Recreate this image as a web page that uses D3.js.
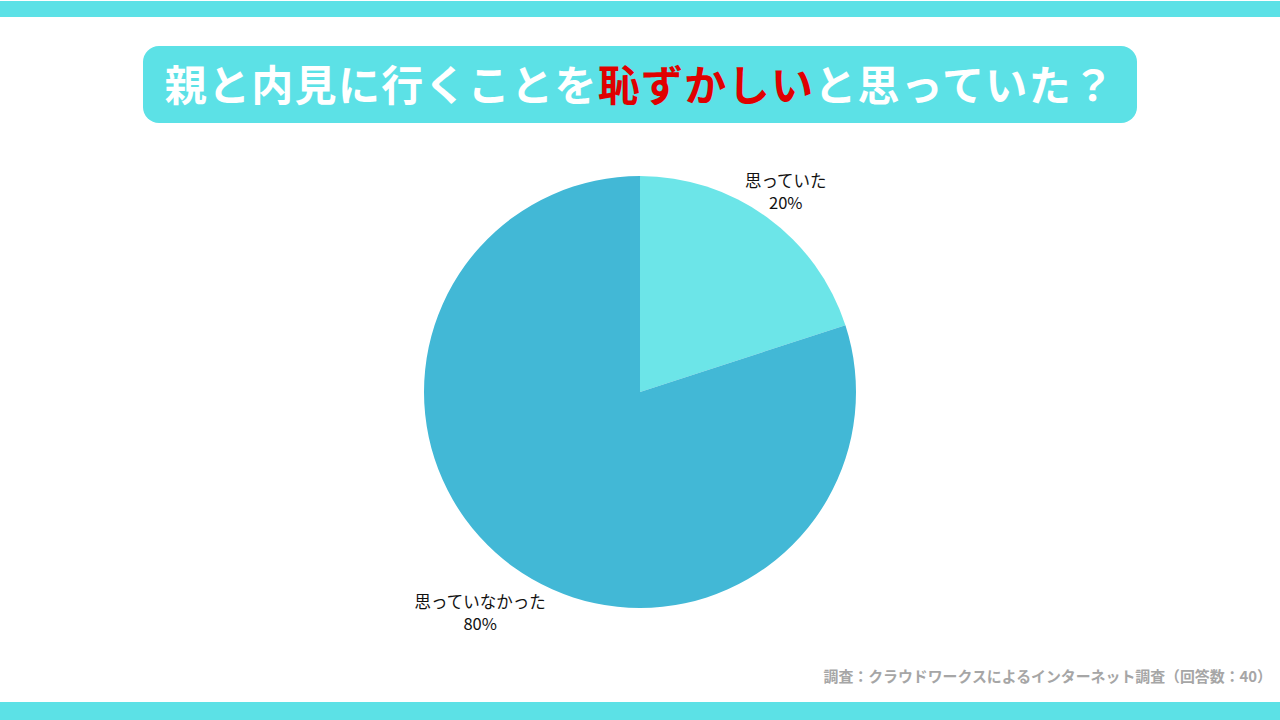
<!DOCTYPE html>
<html><head><meta charset="utf-8">
<script src="https://cdn.jsdelivr.net/npm/d3@7"></script>
<style>body{margin:0;background:#fff}svg{display:block}</style>
</head><body>
<svg id="c" width="1280" height="720"></svg>
<script>
const categories = ["思っていた", "思っていなかった"];
const values = [20, 80];
const percentLabels = ["20%", "80%"];
const colors = ["#6ce5e8", "#42b8d6"];
const titleParts = [["親と内見に行くことを", "#ffffff"], ["恥ずかしい", "#e00000"], ["と思っていた？", "#ffffff"]];
const footnote = "調査：クラウドワークスによるインターネット調査（回答数：40）";

const svg = d3.select("#c");
const font = "'Noto Sans CJK JP','Noto Sans',sans-serif";
svg.append("rect").attr("x",0).attr("y",1).attr("width",1280).attr("height",16).attr("fill","#5ce1e6");
svg.append("rect").attr("x",0).attr("y",702).attr("width",1280).attr("height",18).attr("fill","#5ce1e6");
svg.append("rect").attr("x",143).attr("y",46).attr("width",994).attr("height",77).attr("rx",16).attr("fill","#5ce1e6");
const t = svg.append("text").attr("x",640).attr("y",101).attr("text-anchor","middle")
  .attr("font-family",font).attr("font-weight",700).attr("font-size",42).attr("letter-spacing",1.3);
titleParts.forEach(p => t.append("tspan").attr("fill",p[1]).text(p[0]));

const cx = 640, cy = 392, R = 216;
const pie = d3.pie().sort(null)(values);
const arc = d3.arc().innerRadius(0).outerRadius(R);
const g = svg.append("g").attr("transform",`translate(${cx},${cy})`);
g.selectAll("path").data(pie).join("path").attr("d",arc).attr("fill",(d,i)=>colors[i]);

const labelR = [248, 272];
pie.forEach((d,i) => {
  const a = (d.startAngle + d.endAngle)/2;
  const x = Math.sin(a)*labelR[i], y = -Math.cos(a)*labelR[i];
  const lt = g.append("text").attr("text-anchor","middle").attr("font-family",font)
    .attr("font-size",16.5).attr("fill","#111");
  lt.append("tspan").attr("x",x).attr("y",y-4).text(categories[i]);
  lt.append("tspan").attr("x",x).attr("y",y+18).text(percentLabels[i]);
});

svg.append("text").attr("x",1272).attr("y",682).attr("text-anchor","end")
  .attr("font-family",font).attr("font-weight",700).attr("font-size",14.9).attr("fill","#a6a6a6").text(footnote);
</script>
</body></html>
